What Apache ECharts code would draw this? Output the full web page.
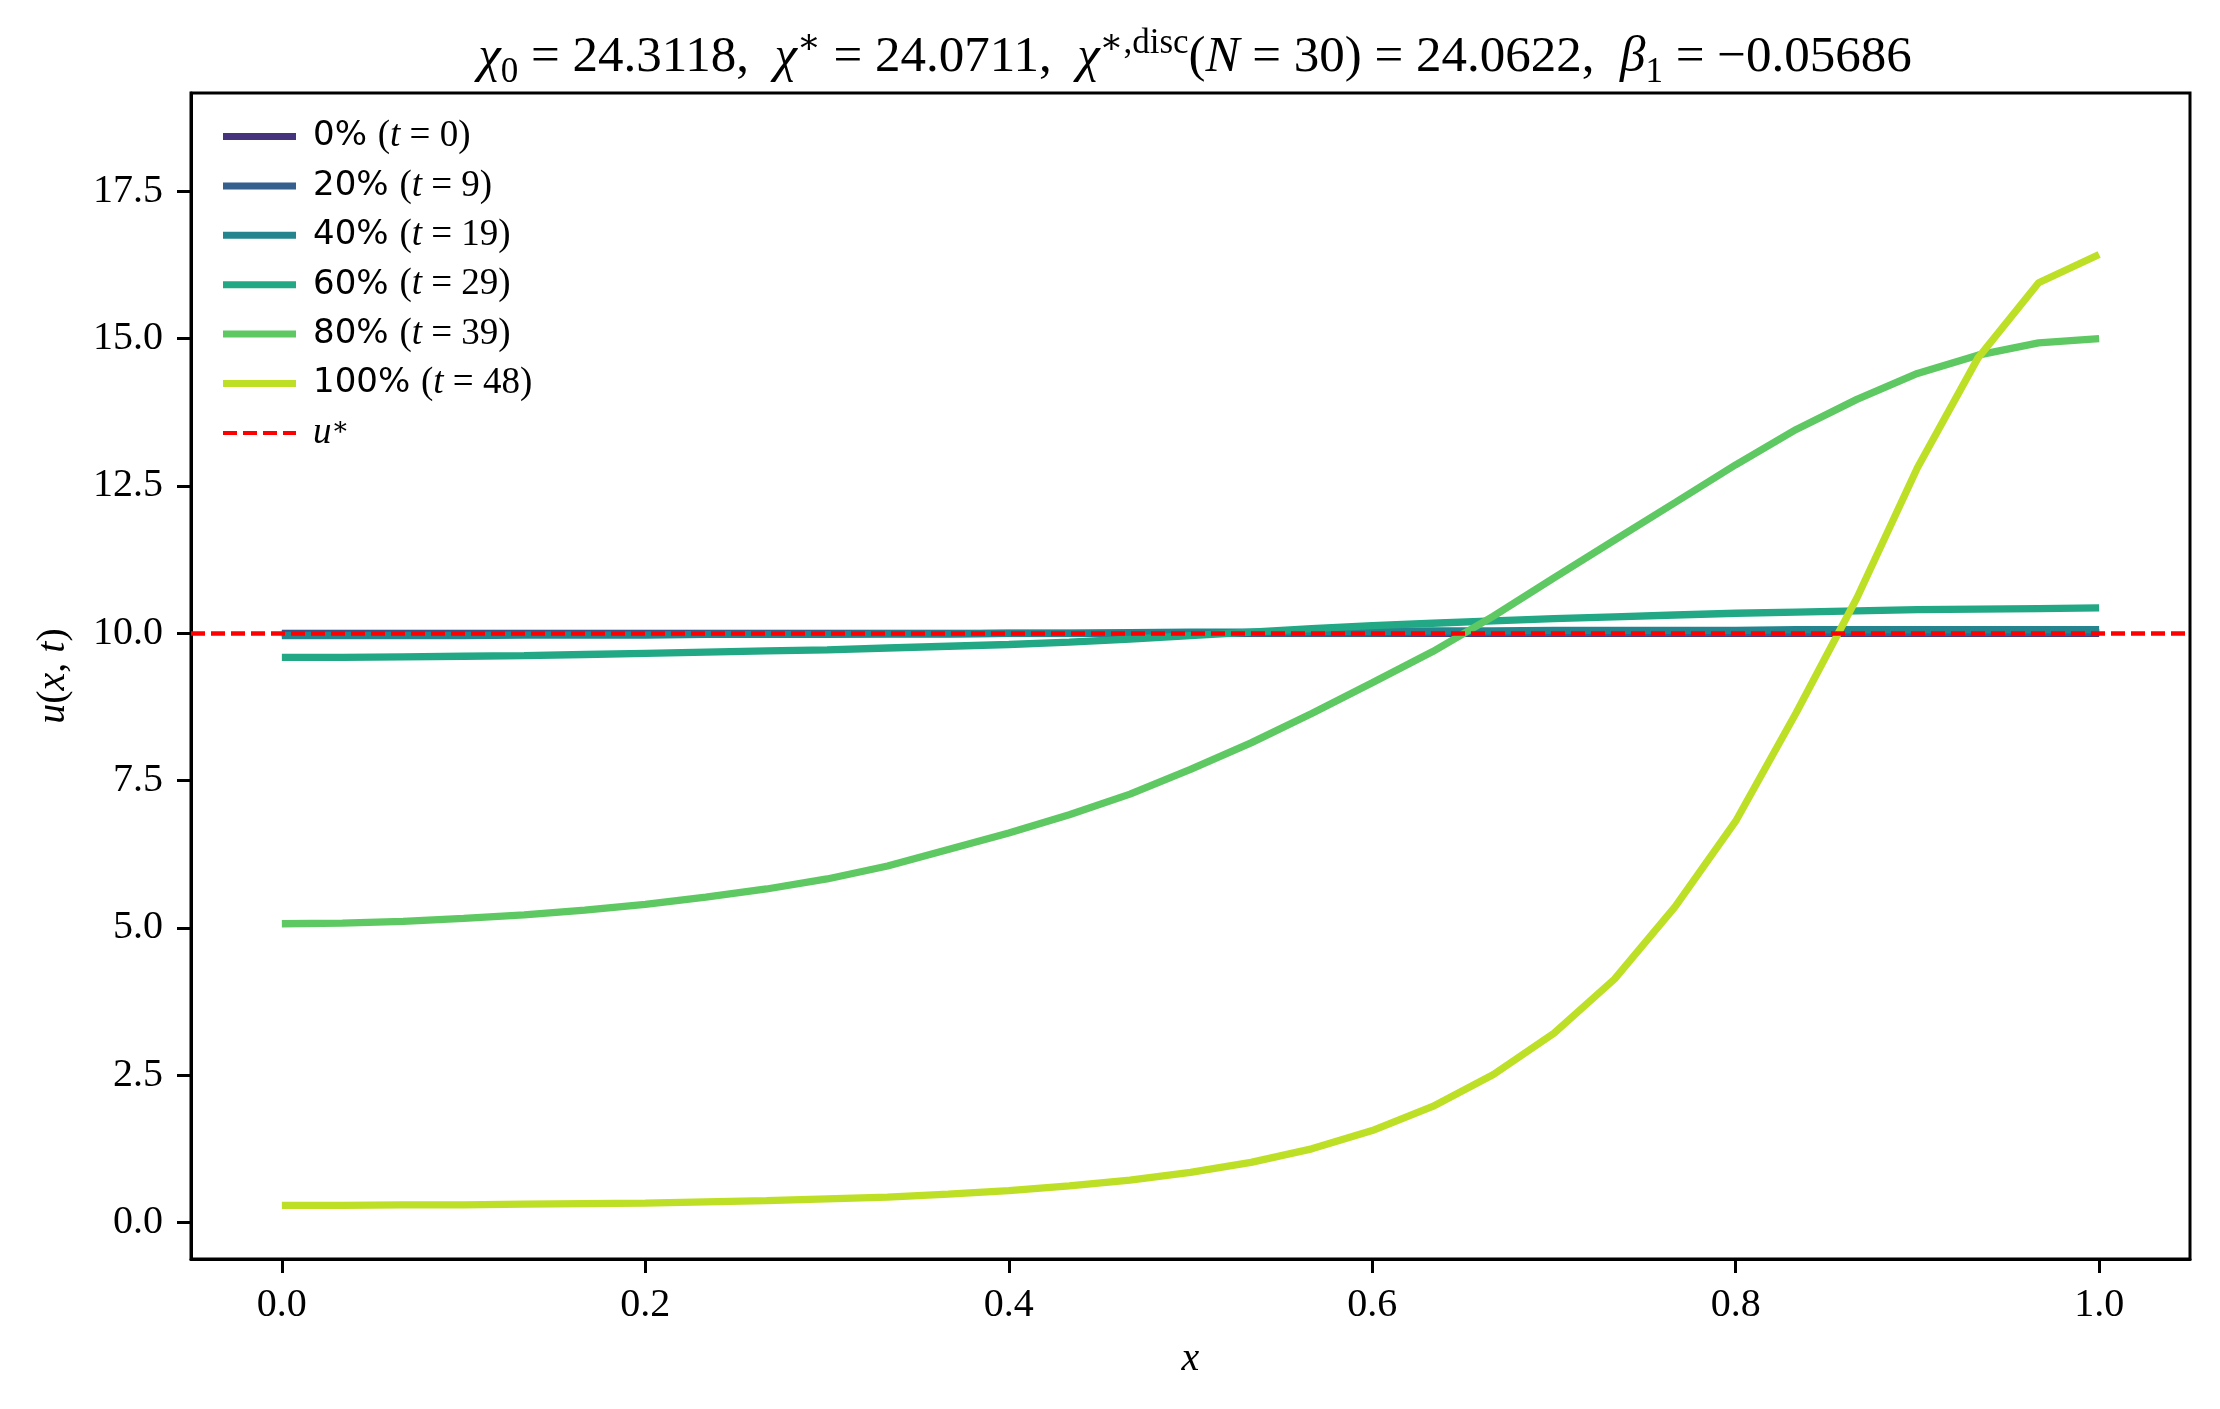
<!DOCTYPE html>
<html>
<head>
<meta charset="utf-8">
<title>u(x,t) snapshots</title>
<script src="https://cdn.jsdelivr.net/npm/echarts/dist/echarts.min.js"></script>
<style>
  html, body { margin: 0; padding: 0; background: #fff; }
  #chart { width: 2220px; height: 1409px; }
</style>
</head>
<body>
<div id="chart"></div>
<script>
// grid points x_k = k/30
var xGrid = [0, 0.0333, 0.0667, 0.1, 0.1333, 0.1667, 0.2, 0.2333, 0.2667, 0.3,
    0.3333, 0.3667, 0.4, 0.4333, 0.4667, 0.5, 0.5333, 0.5667, 0.6, 0.6333,
    0.6667, 0.7, 0.7333, 0.7667, 0.8, 0.8333, 0.8667, 0.9, 0.9333, 0.9667, 1.0];

// snapshots
var u0 = [10, 10, 10, 10, 10, 10, 10, 10, 10, 10, 10, 10, 10, 10, 10, 10,
    10, 10, 10, 10, 10, 10, 10, 10, 10, 10, 10, 10, 10, 10, 10];
var u9 = [9.99, 9.99, 9.99, 9.99, 9.99, 9.99, 9.99, 9.99, 9.99, 9.99, 9.99, 9.99,
    10.0, 10.0, 10.0, 10.0, 10.0, 10.0, 10.0,
    10.01, 10.01, 10.01, 10.01, 10.01, 10.01, 10.01, 10.01, 10.01, 10.01, 10.01, 10.01];
var u19 = [9.96, 9.96, 9.96, 9.96, 9.97, 9.97, 9.97, 9.98, 9.98, 9.98, 9.99, 9.99,
    10.0, 10.0, 10.01, 10.02, 10.02, 10.03, 10.03, 10.04, 10.04, 10.05, 10.05,
    10.05, 10.05, 10.06, 10.06, 10.06, 10.06, 10.06, 10.06];
var u29 = [9.59, 9.59, 9.60, 9.61, 9.62, 9.64, 9.66, 9.68, 9.70, 9.72, 9.75, 9.78,
    9.81, 9.85, 9.90, 9.96, 10.02, 10.08, 10.13, 10.17, 10.21, 10.25, 10.28,
    10.31, 10.34, 10.36, 10.38, 10.40, 10.41, 10.42, 10.43];
var u39 = [5.07, 5.08, 5.11, 5.16, 5.22, 5.30, 5.40, 5.52, 5.66, 5.83, 6.05, 6.33,
    6.61, 6.92, 7.27, 7.69, 8.14, 8.64, 9.16, 9.69, 10.29, 10.94, 11.58, 12.22,
    12.86, 13.46, 13.97, 14.41, 14.72, 14.93, 15.00];
var u48 = [0.29, 0.29, 0.30, 0.30, 0.31, 0.32, 0.33, 0.35, 0.37, 0.40, 0.43, 0.48,
    0.54, 0.62, 0.72, 0.85, 1.02, 1.25, 1.56, 1.97, 2.51, 3.21, 4.13, 5.36,
    6.81, 8.65, 10.60, 12.81, 14.67, 15.95, 16.43];

var uStar = 10.0;
var pct = ['0%', '20%', '40%', '60%', '80%', '100%'];
var tStep = [0, 9, 19, 29, 39, 48];
var colors = ['#46337e', '#355f8d', '#25858e', '#22a884', '#5ec962', '#bddf26'];

var xTicks = [0, 0.2, 0.4, 0.6, 0.8, 1.0];
var yTicks = [0, 2.5, 5, 7.5, 10, 12.5, 15, 17.5];
var xMin = -0.05, xMax = 1.05;
var yMin = -0.62, yMax = 19.17;

var serif = "'Liberation Serif', 'DejaVu Serif', serif";
var sans = "'DejaVu Sans', sans-serif";

var snaps = [u0, u9, u19, u29, u39, u48];
var series = [];
var legendData = [];
for (var i = 0; i < snaps.length; i++) {
    var nm = pct[i] + ' (t = ' + tStep[i] + ')';
    legendData.push({ name: nm, icon: 'rect' });
    series.push({
        name: nm,
        type: 'line',
        symbol: 'none',
        showSymbol: false,
        animation: false,
        lineStyle: { color: colors[i], width: 7.3 },
        itemStyle: { color: colors[i] },
        data: xGrid.map(function (x, k) { return [x, snaps[i][k]]; })
    });
}
// dashed handle for the u* entry
legendData.push({ name: 'u*', icon: 'path://M0,0h14v4h-14z M20,0h14v4h-14z M40,0h14v4h-14z M60,0h13v4h-13z' });
series.push({
    name: 'u*',
    type: 'line',
    symbol: 'none',
    animation: false,
    lineStyle: { color: '#ff0000', width: 4.5, type: [14, 6] },
    itemStyle: { color: '#ff0000' },
    data: [],
    markLine: {
        silent: true,
        symbol: 'none',
        animation: false,
        label: { show: false },
        lineStyle: { color: '#ff0000', width: 4.5, type: [14, 6] },
        data: [{ yAxis: uStar }]
    }
});

function legendLabel(name) {
    if (name === 'u*') return '{w| }{i|u}{sp|∗}';
    var m = name.match(/^(\S+) \(t = (\d+)\)$/);
    return '{w| }{s|' + m[1] + ' }{p|(}{i|t}{p| = ' + m[2] + ')}';
}

var tStyle = function (size, italic, lh, va) {
    return {
        fontFamily: serif, fontSize: size, fontWeight: 'normal',
        fontStyle: italic ? 'italic' : 'normal', color: '#000',
        lineHeight: lh, verticalAlign: va
    };
};

var chart = echarts.init(document.getElementById('chart'));
var option = {
    backgroundColor: '#fff',
    animation: false,
    title: {
        left: 1190,
        top: 21,
        textAlign: 'center',
        text: '{g|χ}{sb|0}{n| = 24.3118,  }{g|χ}{sp|∗}{n| = 24.0711,  }{g|χ}{sp|∗,disc}{n|(}{g|N}{n| = 30) = 24.0622,  }{g|β}{sb|1}{n| = −0.05686}',
        textStyle: {
            fontWeight: 'normal',
            rich: {
                n: tStyle(51, false, 64, 'middle'),
                g: tStyle(51, true, 64, 'middle'),
                sb: tStyle(35, false, 33, 'bottom'),
                sp: tStyle(35, false, 33, 'top')
            }
        }
    },
    legend: {
        orient: 'vertical',
        left: 218,
        top: 113,
        itemWidth: 73,
        itemHeight: 7,
        itemGap: 12.4,
        data: legendData,
        formatter: legendLabel,
        textStyle: {
            color: '#000',
            rich: {
                w: { width: 12, fontSize: 20, lineHeight: 36 },
                s: { fontFamily: sans, fontSize: 34, color: '#000', lineHeight: 36 },
                p: { fontFamily: serif, fontSize: 37, color: '#000', lineHeight: 36 },
                i: { fontFamily: serif, fontStyle: 'italic', fontSize: 37, color: '#000', lineHeight: 36 },
                sp: { fontFamily: serif, fontSize: 26, color: '#000', lineHeight: 18, verticalAlign: 'top' }
            }
        }
    },
    grid: {
        left: 191,
        right: 30,
        top: 93,
        bottom: 150,
        show: true,
        borderColor: '#000',
        borderWidth: 3,
        backgroundColor: '#fff'
    },
    xAxis: {
        type: 'value',
        min: xMin,
        max: xMax,
        splitLine: { show: false },
        axisLine: { onZero: false, lineStyle: { color: '#000', width: 3 } },
        axisTick: { show: true, length: 14, lineStyle: { color: '#000', width: 3 }, customValues: xTicks },
        axisLabel: {
            customValues: xTicks,
            formatter: function (v) { return v.toFixed(1); },
            margin: 26,
            fontFamily: serif,
            fontSize: 40,
            color: '#000'
        },
        name: 'x',
        nameLocation: 'middle',
        nameGap: 80,
        nameTextStyle: { fontFamily: serif, fontStyle: 'italic', fontSize: 40, color: '#000' }
    },
    yAxis: {
        type: 'value',
        min: yMin,
        max: yMax,
        splitLine: { show: false },
        axisLine: { onZero: false, lineStyle: { color: '#000', width: 3 } },
        axisTick: { show: true, length: 14, lineStyle: { color: '#000', width: 3 }, customValues: yTicks },
        axisLabel: {
            customValues: yTicks,
            formatter: function (v) { return v.toFixed(1); },
            margin: 28,
            fontFamily: serif,
            fontSize: 40,
            color: '#000'
        },
        name: '{i|u}{n|(}{i|x}{n|, }{i|t}{n|)}',
        nameLocation: 'middle',
        nameRotate: 90,
        nameGap: 118,
        nameTextStyle: {
            rich: {
                n: { fontFamily: serif, fontSize: 40, color: '#000' },
                i: { fontFamily: serif, fontStyle: 'italic', fontSize: 40, color: '#000' }
            }
        }
    },
    series: series
};
chart.setOption(option);
</script>
</body>
</html>
